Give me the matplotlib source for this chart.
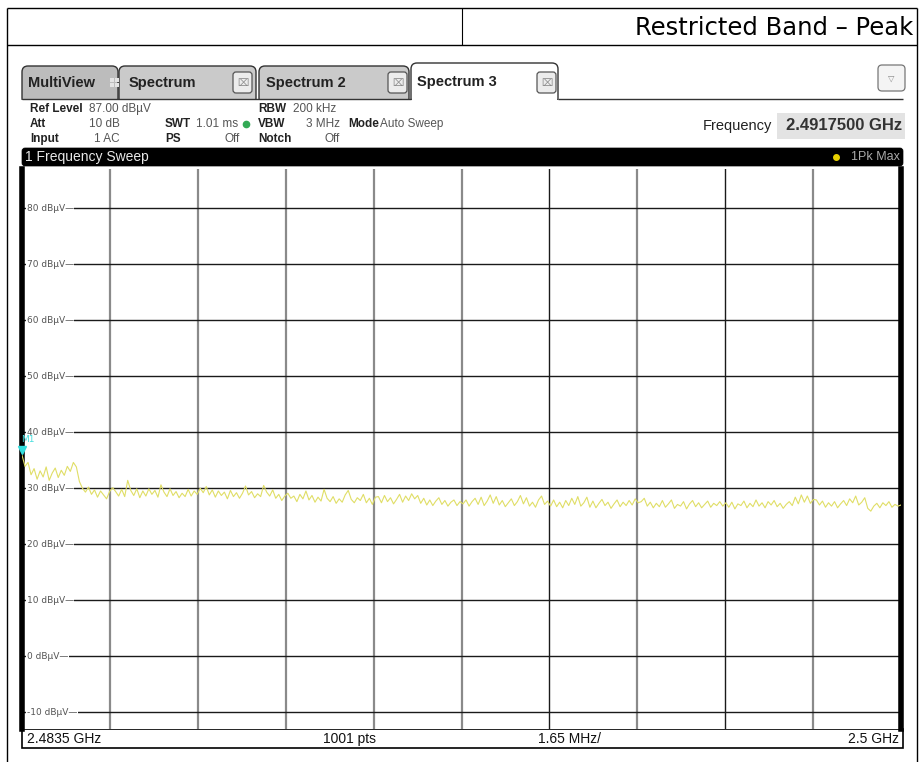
import numpy as np
import matplotlib
matplotlib.use("Agg")
import matplotlib.pyplot as plt
import matplotlib.transforms as mtransforms
from matplotlib.patches import FancyBboxPatch, Rectangle

# ---------------- data ----------------
start_freq_ghz = 2.4835
stop_freq_ghz = 2.5
ref_level = 87.0
y_bottom = -13.0
y_ticks = [80, 70, 60, 50, 40, 30, 20, 10, 0, -10]
y_tick_labels = ["80 dBµV", "70 dBµV", "60 dBµV", "50 dBµV", "40 dBµV",
                 "30 dBµV", "20 dBµV", "10 dBµV", "0 dBµV", "-10 dBµV"]
marker_freq_ghz = 2.4835080
marker_level = 35.94

trace_dbuv = [
    35.9, 33.9, 34.6, 32.4, 33.5, 31.6, 33.1, 32.0, 33.8, 31.4, 32.7, 33.6, 31.9, 33.2, 32.3, 33.9, 33.0, 34.6,
    33.8, 31.2, 30.0, 29.3, 30.2, 28.9, 29.7, 28.4, 29.5, 28.8, 28.1, 29.4,
    30.1, 29.4, 28.6, 29.8, 28.5, 31.4, 29.6, 28.7, 29.9, 28.3, 29.5, 28.6, 29.9, 28.9, 29.6,
    28.4, 30.6, 29.3, 28.5, 29.9, 28.7, 29.4, 28.3, 29.1, 28.5, 29.8, 28.6, 29.5, 28.9, 30.0,
    29.2, 30.3, 28.8, 29.7, 28.4, 29.5, 28.7, 29.3, 28.1, 29.6, 28.5, 29.2, 28.2, 29.1, 30.4,
    28.8, 29.4, 28.3, 29.0, 28.5, 30.5, 29.3, 28.6, 29.7, 28.2, 28.9, 27.8, 28.6, 29.1, 28.2,
    28.6, 27.6, 28.9, 28.1, 29.5, 27.9, 28.7, 27.5, 28.4, 27.7, 29.8, 28.2, 27.6, 28.5,
    27.3, 28.1, 27.5, 28.8, 29.6, 28.0, 27.4, 28.3, 27.8, 28.9, 27.4, 28.2, 27.1, 28.4,
    28.5, 27.4, 28.7, 27.6, 28.3, 27.2, 28.0, 28.9, 27.5, 28.6, 27.8, 29.0, 28.1, 28.7, 27.3,
    28.2, 27.0, 27.9, 26.9, 27.7, 28.3, 27.1, 27.8, 26.8, 27.5, 27.9, 26.9, 27.6, 27.2,
    27.9, 26.8, 27.6, 28.2, 27.1, 28.4, 26.9, 27.7, 28.8, 27.3, 28.5, 27.0, 27.8, 26.7, 27.4,
    28.1, 26.9, 27.6, 28.7, 27.2, 28.3, 26.8, 27.5, 26.6, 27.9, 28.6, 27.1, 27.7, 26.8,
    27.9, 26.7, 27.5, 26.5, 27.8, 26.9, 28.2, 27.1, 28.5, 26.8, 27.4, 28.4, 26.6, 27.7, 26.5,
    27.3, 28.0, 26.9, 27.5, 26.4, 27.2, 27.9, 26.7, 27.5, 26.9, 27.8, 27.0, 28.1, 27.4,
    27.6, 28.2, 26.8, 27.5, 26.5, 27.3, 26.7, 27.8, 26.6, 27.2, 27.9, 26.4, 27.1, 26.8, 27.6,
    26.3, 27.2, 27.8, 26.7, 27.4, 26.5, 27.1, 27.7, 26.6, 27.3, 26.9, 27.6, 26.8, 27.4,
    26.6, 27.5, 26.3, 27.2, 26.9, 27.7, 26.5, 27.3, 26.7, 27.9, 26.8, 27.4, 26.5, 27.6, 27.0,
    27.8, 26.7, 27.3, 26.4, 27.1, 27.6, 26.9, 28.4, 27.2, 28.8, 27.5, 28.6, 27.3, 28.0,
    27.9, 27.0, 27.7, 26.6, 27.4, 26.8, 27.6, 26.5, 27.2, 27.8, 26.9, 28.1, 27.4, 28.6, 27.0,
    27.5, 28.3, 26.4, 25.9, 26.8, 27.3, 26.5, 27.4, 26.9, 27.6, 26.6, 27.1, 26.8, 27.0,
]

W, H = 920, 762
SANS = "Liberation Sans"

fig = plt.figure(figsize=(W / 100, H / 100), dpi=100)
fig.patch.set_facecolor("white")

ov = fig.add_axes([0, 0, 1, 1])
ov.set_xlim(0, W)
ov.set_ylim(H, 0)
ov.axis("off")

def line(x0, y0, x1, y1, c="black", lw=1.0, z=1):
    ov.plot([x0, x1], [y0, y1], color=c, lw=lw, solid_capstyle="butt", zorder=z)

# page table borders
line(7, 8, 917, 8)
line(7, 45, 917, 45)
line(7, 8, 7, 762)
line(917, 8, 917, 762)
line(462, 8, 462, 45, lw=0.8)
ov.text(913, 28, "Restricted Band \u2013 Peak", ha="right", va="center",
        fontsize=17.5, family="DejaVu Sans", color="black")

# tabs
def tab(x0, x1, y0, fc, z=2):
    p = FancyBboxPatch((x0 + 4, y0 + 4), x1 - x0 - 8, 100 - y0 - 4,
                       boxstyle="round,pad=4,rounding_size=6",
                       fc=fc, ec="#333333", lw=1.0, zorder=z)
    ov.add_patch(p)

tab(22, 118, 66, "#bcbcbc")
tab(119, 256, 66, "#cacaca")
tab(259, 409, 66, "#cacaca")
tab(411, 558, 63, "white", z=3)
ov.add_patch(Rectangle((20, 100), 886, 48, fc="white", ec="none", zorder=4))
line(558, 98.5, 903, 98.5, c="#333333", lw=1.0, z=5)
line(22, 98.5, 411, 98.5, c="#333333", lw=1.0, z=5)

tab_font = dict(fontsize=10.5, family=SANS, weight="bold", color="#222222",
                va="center", zorder=6)
ov.text(28, 83, "MultiView", **tab_font)
ov.text(129, 83, "Spectrum", **tab_font)
ov.text(266, 83, "Spectrum 2", **tab_font)
ov.text(417, 82, "Spectrum 3", **tab_font)
for dx in (0, 5):
    for dy in (0, 5):
        ov.add_patch(Rectangle((110 + dx, 78 + dy), 4, 4, fc="#e4e4e4", ec="none", zorder=6))

def close_box(x0):
    ov.add_patch(FancyBboxPatch((x0 + 2, 74), 15, 17,
                                boxstyle="round,pad=2,rounding_size=3",
                                fc="#ececec", ec="#555555", lw=0.9, zorder=6))
    ov.text(x0 + 9.5, 83, "\u2327", ha="center", va="center", fontsize=7,
            color="#888888", family="DejaVu Sans", zorder=7)

close_box(233)
close_box(388)
close_box(537)

ov.add_patch(FancyBboxPatch((880, 67), 23, 22, boxstyle="round,pad=2,rounding_size=4",
                            fc="#f4f4f4", ec="#777777", lw=0.9, zorder=6))
ov.text(891.5, 78, "\u25bd", ha="center", va="center", fontsize=6, color="#888888",
        family="DejaVu Sans", zorder=7)

# info texts
bold = dict(fontsize=8.5, family=SANS, weight="bold", color="#222222", va="center", zorder=6)
norm = dict(fontsize=8.5, family=SANS, color="#555555", va="center", zorder=6)
ov.text(30, 109, "Ref Level", **bold)
ov.text(89, 109, "87.00 dBµV", **norm)
ov.text(30, 124, "Att", **bold)
ov.text(120, 124, "10 dB", ha="right", **norm)
ov.text(30, 139, "Input", **bold)
ov.text(120, 139, "1 AC", ha="right", **norm)
ov.text(165, 124, "SWT", **bold)
ov.text(196, 124, "1.01 ms", **norm)
ov.plot([246], [124], "o", ms=4.5, color="#33aa55", zorder=6)
ov.text(165, 139, "PS", **bold)
ov.text(240, 139, "Off", ha="right", **norm)
ov.text(258, 109, "RBW", **bold)
ov.text(293, 109, "200 kHz", **norm)
ov.text(258, 124, "VBW", **bold)
ov.text(340, 124, "3 MHz", ha="right", **norm)
ov.text(258, 139, "Notch", **bold)
ov.text(340, 139, "Off", ha="right", **norm)
ov.text(348, 124, "Mode", **bold)
ov.text(380, 124, "Auto Sweep", **norm)

ov.text(772, 126, "Frequency", ha="right", va="center", fontsize=10.5,
        family=SANS, color="#222222", zorder=6)
ov.add_patch(Rectangle((777, 113), 128, 26, fc="#e3e3e3", ec="none", zorder=5))
ov.text(902, 126, "2.4917500 GHz", ha="right", va="center", fontsize=12,
        family=SANS, weight="bold", color="#333333", zorder=6)

# black header bar
ov.add_patch(FancyBboxPatch((24, 150), 877, 14, boxstyle="round,pad=2,rounding_size=3",
                            fc="black", ec="black", lw=0.5, zorder=6))
ov.text(25, 157, "1 Frequency Sweep", va="center", fontsize=10, family=SANS,
        color="#e8e8e8", zorder=7)
ov.plot([836], [157], "o", ms=4, color="#e8d000", zorder=7)
ov.text(900, 157, "1Pk Max", ha="right", va="center", fontsize=9,
        family=SANS, color="#aaaaaa", zorder=7)

# status bar
ov.add_patch(Rectangle((22, 729), 881, 19, fc="white", ec="black", lw=1.2, zorder=6))
stat = dict(fontsize=10, family=SANS, color="#111111", va="center", zorder=7)
ov.text(27, 739, "2.4835 GHz", **stat)
ov.text(350, 739, "1001 pts", ha="center", **stat)
ov.text(538, 739, "1.65 MHz/", **stat)
ov.text(899, 739, "2.5 GHz", ha="right", **stat)

# ---------------- plot axes ----------------
px_l, px_r, px_t, px_b = 22, 901, 169, 729
ax = fig.add_axes([px_l / W, (H - px_b) / H, (px_r - px_l) / W, (px_b - px_t) / H])
ax.set_facecolor("white")
ax.set_xlim(start_freq_ghz, stop_freq_ghz)
ax.set_ylim(y_bottom, ref_level)
ax.set_xticks([])
ax.set_yticks([])
for s in ("top", "bottom"):
    ax.spines[s].set_visible(False)
ax.spines["left"].set_linewidth(4)
ax.spines["right"].set_linewidth(4)

step = (stop_freq_ghz - start_freq_ghz) / 10
vx = [start_freq_ghz + i * step for i in range(1, 10)]
for i, x in enumerate(vx):
    if i in (5, 7):
        ax.axvline(x, color="#1a1a1a", lw=1.0, zorder=1)
    else:
        ax.axvline(x, color="#8a8a8a", lw=1.6, zorder=1)
for yv in y_ticks:
    ax.axhline(yv, color="#1a1a1a", lw=1.0, zorder=1)
for yv, lab in zip(y_ticks, y_tick_labels):
    ax.text(start_freq_ghz + step * 0.055, yv, lab + "\u2014", va="center", ha="left",
            fontsize=6.5, family="DejaVu Sans", color="#555555", zorder=2,
            bbox=dict(fc="white", ec="none", pad=0.3))

freqs = np.linspace(start_freq_ghz, stop_freq_ghz, len(trace_dbuv))
ax.plot(freqs, trace_dbuv, color="#e0de66", lw=0.8, zorder=3)

# marker M1 (triangle tip sits on the marker level)
tri_tf = mtransforms.offset_copy(ax.transData, fig=fig, x=0, y=5, units="dots")
ax.plot([marker_freq_ghz], [marker_level], marker="v", ms=5.5, color="#33dddd",
        zorder=4, clip_on=False, linestyle="none", transform=tri_tf)
ax.annotate("M1", (marker_freq_ghz, marker_level), xytext=(-1, 9),
            textcoords="offset points", fontsize=6.5, color="#44dddd",
            family="DejaVu Sans", annotation_clip=False, zorder=4)
mk = dict(fontsize=9, family=SANS, color="#33dddd", va="center", zorder=5)
ov.text(718, 178, "M1[1]", **mk)
ov.text(900, 178, "35.94 dBµV", ha="right", **mk)
ov.text(900, 196, "2.4835080 GHz", ha="right", **mk)

fig.savefig("out.png", dpi=100, facecolor="white")
